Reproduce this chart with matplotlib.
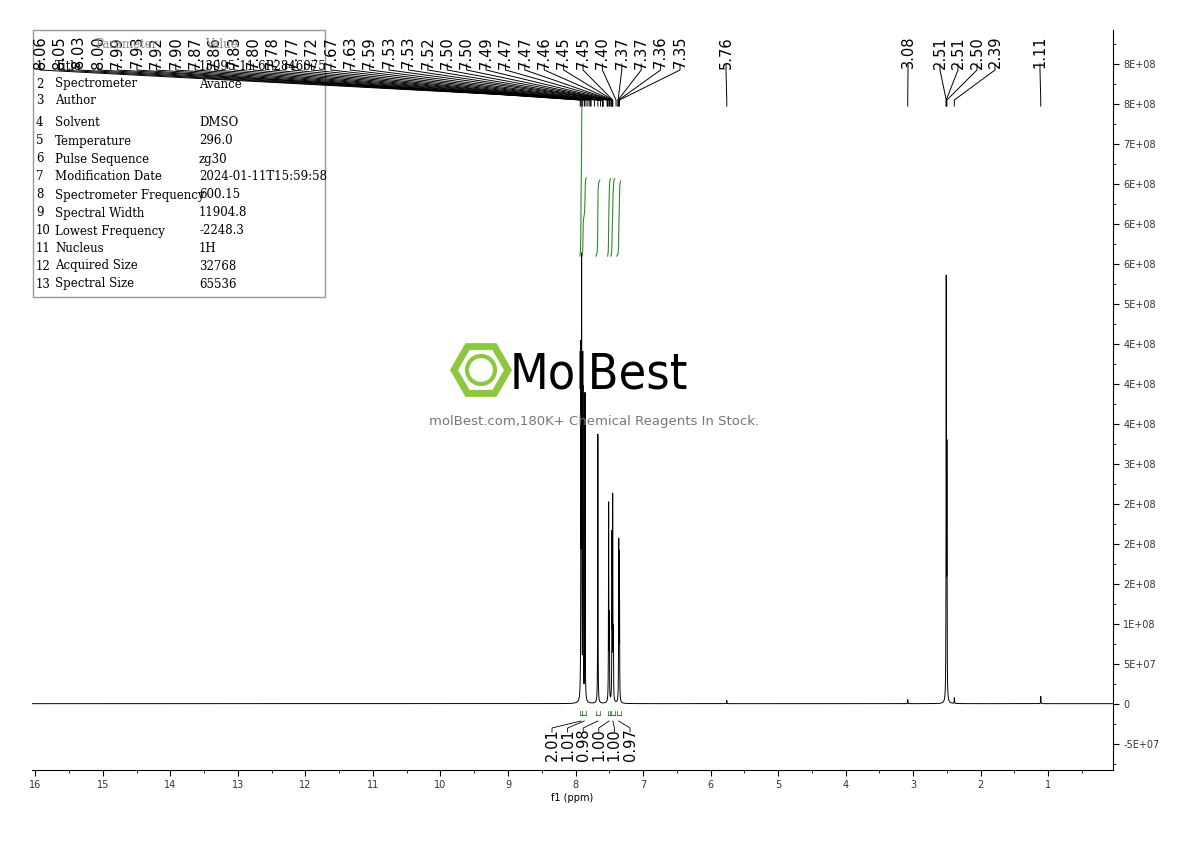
import numpy as np
import matplotlib
matplotlib.use("Agg")
import matplotlib.pyplot as plt
from matplotlib.patches import RegularPolygon, Circle, Rectangle
from matplotlib.lines import Line2D

# ---- data ----
peak_ppm = [7.92, 7.91, 7.89, 7.86, 7.67, 7.51, 7.50, 7.46, 7.45, 7.44, 7.36, 7.35,
            2.51, 2.50, 5.76, 3.08, 2.39, 1.11]
peak_h = [4.2e8, 5.33e8, 3.85e8, 3.85e8, 3.37e8, 2.46e8, 1.0e8, 2.0e8, 2.46e8, 0.8e8, 1.96e8, 1.8e8,
          5.2e8, 3.0e8, 0.4e7, 0.5e7, 0.7e7, 0.9e7]
cluster_labels = ["8.06","8.05","8.03","8.00","7.99","7.93","7.92","7.90","7.87","7.86","7.83",
                  "7.80","7.78","7.77","7.72","7.67","7.63","7.59","7.53","7.53","7.52","7.50",
                  "7.50","7.49","7.47","7.47","7.46","7.45","7.45","7.40","7.37","7.37","7.36","7.35"]
other_labels = ["5.76", "3.08", "2.51", "2.51", "2.50", "2.39", "1.11"]
int_regions = [(7.935, 7.905), (7.90, 7.84), (7.70, 7.64), (7.525, 7.485), (7.475, 7.42), (7.39, 7.33)]
int_values = ["2.01", "1.01", "0.98", "1.00", "1.00", "0.97"]
int_nums = [2.01, 1.01, 0.98, 1.00, 1.00, 0.97]
ytick_vals = [-0.5e8, 0, 0.5e8, 1e8, 1.5e8, 2e8, 2.5e8, 3e8, 3.5e8, 4e8, 4.5e8, 5e8, 5.5e8, 6e8, 6.5e8, 7e8, 7.5e8, 8e8]
ytick_labels = ["-5E+07","0","5E+07","1E+08","2E+08","2E+08","2E+08","3E+08","4E+08","4E+08","4E+08",
                "5E+08","6E+08","6E+08","6E+08","7E+08","8E+08","8E+08"]
table_rows = [("1", "Title", "13095-11-6P2846075"), ("2", "Spectrometer", "Avance"), ("3", "Author", ""),
              ("4", "Solvent", "DMSO"), ("5", "Temperature", "296.0"), ("6", "Pulse Sequence", "zg30"),
              ("7", "Modification Date", "2024-01-11T15:59:58"), ("8", "Spectrometer Frequency", "600.15"),
              ("9", "Spectral Width", "11904.8"), ("10", "Lowest Frequency", "-2248.3"),
              ("11", "Nucleus", "1H"), ("12", "Acquired Size", "32768"), ("13", "Spectral Size", "65536")]

W, H = 1190, 841
fig = plt.figure(figsize=(11.9, 8.41), dpi=100)
ax = fig.add_axes([32/W, 1-770/H, (1113-32)/W, (770-30)/H])
XL, XR = 16.05, 0.04
YB, YT = -0.83e8, 8.43e8
ax.set_xlim(XL, XR)
ax.set_ylim(YB, YT)

x = np.linspace(XL, XR, 60000)
y = np.zeros_like(x)
w = 0.0025
for p, h in zip(peak_ppm, peak_h):
    y += h * w**2 / ((x - p)**2 + w**2)
ax.plot(x, y, color="black", lw=0.7)

# integrals
for (a, b), v in zip(int_regions, int_nums):
    m = (x <= a) & (x >= b)
    xs = x[m]; ys = np.cumsum(y[m])
    ys = ys / ys[-1] * v * 0.97e8 + 5.6e8
    ax.plot(xs, ys, color="#2e8b2e", lw=0.8)
    ax.plot([a, b], [-1.4e7, -1.4e7], color="#2e8b2e", lw=0.8)
    for q in (a, b):
        ax.plot([q, q], [-1.4e7, -0.9e7], color="#2e8b2e", lw=0.6)

for s in ["top", "left"]:
    ax.spines[s].set_visible(False)
ax.spines["right"].set_linewidth(0.8)
ax.spines["bottom"].set_linewidth(0.8)
ax.yaxis.tick_right()
ax.set_yticks(ytick_vals)
ax.set_yticklabels(ytick_labels, fontsize=7, color="#333333")
ax.set_yticks(np.arange(-0.75e8, 8.4e8, 0.5e8), minor=True)
ax.set_xticks(np.arange(16, 0, -1))
ax.set_xticklabels([str(i) for i in range(16, 0, -1)], fontsize=7, color="#333333")
ax.set_xticks(np.arange(16, 0.4, -0.5), minor=True)
ax.tick_params(which="both", direction="out", length=4)
ax.tick_params(which="minor", length=2)
ax.set_xlabel("f1 (ppm)", fontsize=7, labelpad=2)

def fx(ppm):
    return fig.transFigure.inverted().transform(ax.transData.transform((ppm, 0)))[0]

# peak labels
def draw_label(txt, lxpix, ppm):
    lx = lxpix / W
    px = fx(ppm)
    fig.text(lx, 1-36/H, txt, rotation=90, ha="center", va="top", fontsize=10.5)
    fig.add_artist(Line2D([lx, lx, px, px], [1-64/H, 1-70/H, 1-100/H, 1-106/H],
                          color="black", lw=0.7, transform=fig.transFigure))

clx = np.linspace(40, 680, len(cluster_labels))
for lab, lxp in zip(cluster_labels, clx):
    draw_label(lab, lxp, float(lab) if float(lab) < 7.97 and float(lab) > 7.3 else 7.6)
for lab, lxp in zip(other_labels, [726, 908, 940, 958, 977, 995, 1040]):
    draw_label(lab, lxp, float(lab))

# integral labels
for lab, lxp, (a, b) in zip(int_values, np.linspace(552, 630, 6), int_regions):
    lx = lxp / W
    fig.text(lx, 1-728/H, lab, rotation=90, ha="center", va="top", fontsize=10.5)
    fig.add_artist(Line2D([lx, lx, fx((a+b)/2)], [1-732/H, 1-728/H, 1-721/H],
                          color="black", lw=0.6, transform=fig.transFigure))

# parameter table
fig.add_artist(Rectangle((33/W, 1-297/H), 292/W, 267/H, fill=False, edgecolor="#999999",
                         lw=1, transform=fig.transFigure))
fig.text(95/W, 1-45/H, "Parameter", fontsize=8.5, family="DejaVu Serif", color="#888888", va="center")
fig.text(205/W, 1-45/H, "Value", fontsize=8.5, family="DejaVu Serif", color="#888888", va="center")
rows_y = [66, 84, 101, 123, 141, 159, 177, 195, 213, 231, 248, 266, 284]
for (n, k, v), ry in zip(table_rows, rows_y):
    fig.text(36/W, 1-ry/H, n, fontsize=8.5, family="DejaVu Serif", va="center")
    fig.text(55/W, 1-ry/H, k, fontsize=8.5, family="DejaVu Serif", va="center")
    fig.text(199/W, 1-ry/H, v, fontsize=8.5, family="DejaVu Serif", va="center")

# watermark
hx, hy = 481/W, 1-370/H
fig.add_artist(RegularPolygon((481, 841-370), 6, radius=27, orientation=np.pi/6, facecolor="none",
                              edgecolor="#8dc63f", lw=5, transform=None))
fig.add_artist(Circle((481, 841-370), 14, facecolor="none", edgecolor="#8dc63f", lw=3, transform=None))
fig.text(510/W, 1-375/H, "MolBest", fontsize=36, va="center", ha="left", color="black",
         family="DejaVu Sans", fontstretch="condensed")
fig.text(594/W, 1-421/H, "molBest.com,180K+ Chemical Reagents In Stock.", fontsize=9.5,
         ha="center", va="center", color="#777777")

fig.savefig("out.png", dpi=100)
